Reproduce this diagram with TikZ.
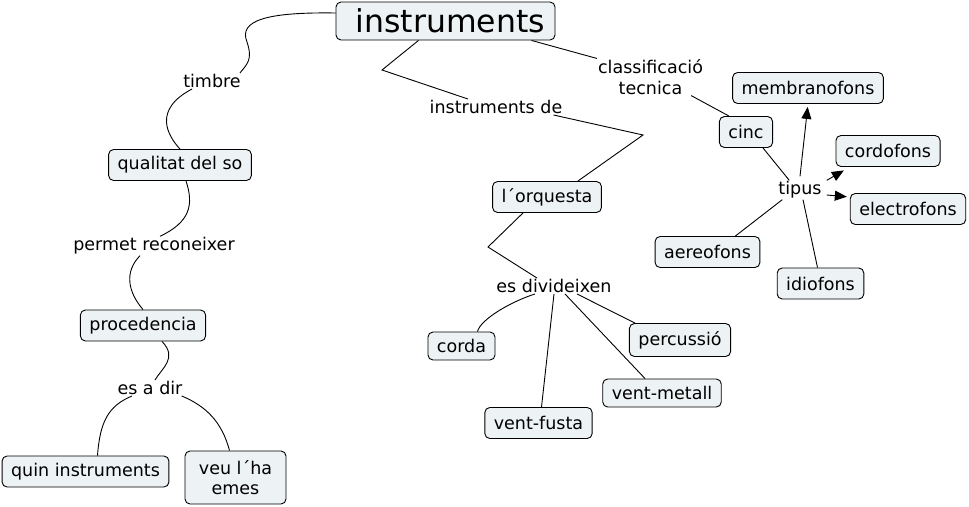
\documentclass[tikz,border=0pt]{standalone}
\usepackage{fontspec}
\setmainfont{DejaVu Sans}
\usetikzlibrary{arrows.meta}

\definecolor{conceptfill}{HTML}{EDF2F4}

\begin{document}
\begin{tikzpicture}[
  x=1pt, y=-1pt,
  font=\fontsize{17.5}{20.5}\selectfont,
  concept/.style={draw, rounded corners=5pt, fill=conceptfill, line width=0.9pt, minimum height=31pt, inner xsep=9pt, align=center},
  link/.style={inner sep=1pt, align=center},
  con/.style={line width=0.9pt},
  arr/.style={con, -{Triangle[length=12pt, width=10pt]}, shorten >=3pt}
]
\useasboundingbox (0,0) rectangle (969,506);

\node[concept, font=\fontsize{31.5}{34}\selectfont, text width=199pt, inner xsep=10pt, align=right, minimum height=38pt] (instr) at (445.5,21) {instruments};

% left branch
\node[link] (timbre) at (212,81) {timbre};
\node[concept] (qual) at (180,165) {qualitat del so};
\node[link] (permet) at (154,246) {permet reconeixer};
\node[concept] (proc) at (143,325.5) {procedencia};
\node[link] (esadir) at (150,388) {es a dir};
\node[concept] (quin) at (85.5,471.5) {quin instruments};
\node[concept, minimum height=53pt, minimum width=101pt] (veu) at (235.5,477.5) {veu l´ha\\emes};

% middle branch
\node[link] (instde) at (496,107) {instruments de};
\node[concept] (orq) at (547,197) {l´orquesta};
\node[link] (divid) at (554,286) {es divideixen};
\node[concept, minimum height=28pt] (corda) at (461.5,346) {corda};
\node[concept, minimum height=33pt] (perc) at (680,340) {percussió};
\node[concept, minimum height=28pt] (metall) at (662,393) {vent-metall};
\node[concept] (fusta) at (538.5,423) {vent-fusta};

% right branch
\node[link] (classif) at (650.5,77) {classificació\\tecnica};
\node[concept] (cinc) at (746,132) {cinc};
\node[link] (tipus) at (800,190) {tipus};
\node[concept] (membr) at (808,88) {membranofons};
\node[concept] (cordo) at (888,151) {cordofons};
\node[concept] (electro) at (908,209) {electrofons};
\node[concept] (aereo) at (707.5,252) {aereofons};
\node[concept] (idio) at (820.5,283.5) {idiofons};

\coordinate (k1) at (382,70);
\coordinate (k2) at (643,135);
\coordinate (k3) at (488,247);

% curved links on the left
\draw[con] ([yshift=8pt]instr.west) .. controls (268,12) and (238,20) .. (247,42)
  .. controls (253,60) and (247,64) .. ([xshift=-2pt]timbre.north east);
\draw[con] ([xshift=10pt]timbre.south west) .. controls (152,110) and (168,136) .. (qual.north);
\draw[con] ([xshift=6pt]qual.south) .. controls (194,205) and (190,222) .. ([xshift=6pt]permet.north);
\draw[con] ([xshift=-14pt]permet.south) .. controls (124,272) and (128,292) .. (proc.north);
\draw[con] ([xshift=19pt]proc.south) .. controls (178,358) and (162,368) .. ([xshift=5pt]esadir.north);
\draw[con] ([xshift=-18pt]esadir.south) .. controls (108,406) and (100,422) .. ([xshift=12pt]quin.north);
\draw[con] ([xshift=-2pt]esadir.south east) .. controls (206,406) and (222,422) .. ([xshift=-6pt]veu.north);

% bent links
\draw[con] ([xshift=-27pt]instr.south) -- (k1) -- ([xshift=-28pt]instde.north);
\draw[con] ([xshift=-10pt]instde.south east) -- (k2) -- ([xshift=-24pt]orq.north east);
\draw[con] ([xshift=-24pt]orq.south) -- (k3) -- ([xshift=-17pt]divid.north);

% straight links
\draw[con] ([xshift=86pt]instr.south) -- (classif.north west);
\draw[con] ([xshift=-13pt]classif.south east) -- ([xshift=10pt]cinc.north west);
\draw[con] ([xshift=-19pt]divid.south) .. controls +(-25,8) and +(3,-12) .. ([xshift=-18pt]corda.north east);
\draw[con] (divid.south) -- ([xshift=3pt]fusta.north);
\draw[con] ([xshift=11pt]divid.south) -- ([xshift=-17pt]metall.north);
\draw[con] ([xshift=23pt]divid.south) -- ([xshift=6pt]perc.north west);
\draw[con] ([xshift=17pt]cinc.south) -- ([xshift=12pt]tipus.north west);
\draw[con] ([xshift=5pt]tipus.south west) -- ([xshift=-25pt]aereo.north east);
\draw[con] ([xshift=3pt]tipus.south) -- ([xshift=-3pt]idio.north);

% arrows out of tipus
\draw[arr] ([yshift=4pt]tipus.north) -- (membr.south);
\draw[arr] ([xshift=4pt]tipus.north east) -- ([xshift=11pt,yshift=-2pt]cordo.south west);
\draw[arr] ([xshift=4pt,yshift=-5pt]tipus.east) -- ([yshift=12pt]electro.west);

\end{tikzpicture}
\end{document}
